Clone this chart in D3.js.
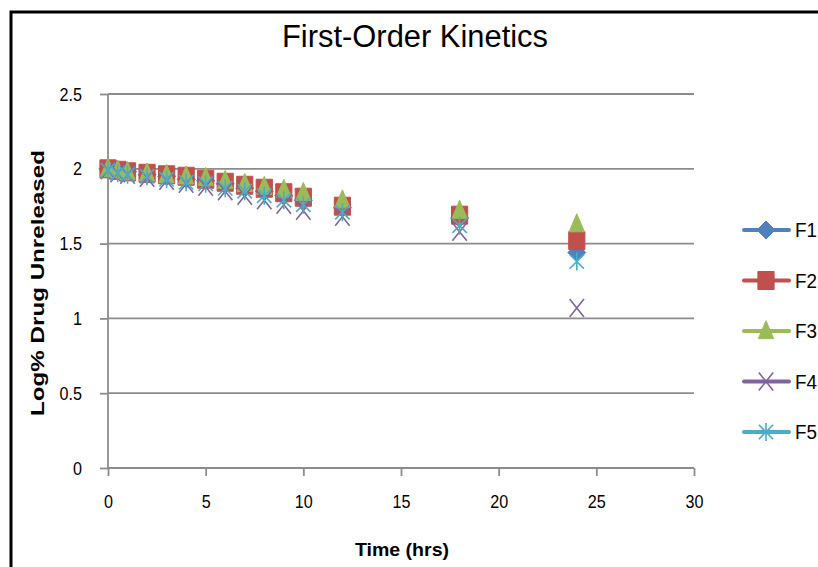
<!DOCTYPE html>
<html>
<head>
<meta charset="utf-8">
<script src="https://cdn.jsdelivr.net/npm/d3@7"></script>
<style>
  html, body { margin: 0; padding: 0; background: #fff; }
  svg { display: block; }
  text { font-family: "Liberation Sans", Arial, sans-serif; fill: #000; }
</style>
</head>
<body>
<svg id="chart" width="818" height="567"></svg>
<script>
const times = [0, 0.5, 1, 2, 3, 4, 5, 6, 7, 8, 9, 10, 12, 18, 24];
const seriesNames = ["F1", "F2", "F3", "F4", "F5"];
const F1 = [2.00, 1.99, 1.98, 1.96, 1.95, 1.93, 1.92, 1.90, 1.87, 1.85, 1.82, 1.79, 1.74, 1.67, 1.44];
const F2 = [2.00, 1.99, 1.98, 1.97, 1.96, 1.95, 1.93, 1.91, 1.89, 1.87, 1.84, 1.81, 1.75, 1.69, 1.52];
const F3 = [2.00, 1.99, 1.98, 1.97, 1.96, 1.95, 1.94, 1.92, 1.90, 1.88, 1.86, 1.84, 1.79, 1.72, 1.63];
const F4 = [1.99, 1.97, 1.96, 1.94, 1.92, 1.90, 1.88, 1.85, 1.82, 1.79, 1.76, 1.72, 1.68, 1.58, 1.07];
const F5 = [1.99, 1.97, 1.96, 1.95, 1.93, 1.91, 1.90, 1.87, 1.85, 1.82, 1.79, 1.76, 1.71, 1.62, 1.38];
const xTicks = [0, 5, 10, 15, 20, 25, 30];
const yTicks = [0, 0.5, 1, 1.5, 2, 2.5];
const titleText = "First-Order Kinetics";
const xTitle = "Time (hrs)";
const yTitle = "Log% Drug Unreleased";

const colors = ["#4F81BD", "#C0504D", "#9BBB59", "#8064A2", "#4BACC6"];
const shapes = ["diamond", "square", "triangle", "x", "star"];
const seriesValues = [F1, F2, F3, F4, F5];

const svg = d3.select("#chart");

// outer frame
svg.append("rect").attr("x", 11).attr("y", 12).attr("width", 830).attr("height", 580)
  .attr("fill", "none").attr("stroke", "#000").attr("stroke-width", 3);

const x = d3.scaleLinear().domain([0, 30]).range([108, 694]);
const y = d3.scaleLinear().domain([0, 2.5]).range([468, 94]);

// gridlines
svg.append("g").selectAll("line").data(yTicks.filter(d => d > 0)).join("line")
  .attr("x1", x(0)).attr("x2", x(30)).attr("y1", d => y(d)).attr("y2", d => y(d))
  .attr("stroke", "#8c8c8c").attr("stroke-width", 1.8);

// y axis
const yAxis = svg.append("g").attr("transform", `translate(${x(0)},0)`)
  .call(d3.axisLeft(y).tickValues(yTicks).tickFormat(d3.format("")).tickSize(8).tickPadding(18));
yAxis.select(".domain").attr("stroke", "#8c8c8c").attr("stroke-width", 1.8).attr("d", `M0,${y(2.5)}V${y(0)}`);
yAxis.selectAll(".tick line").attr("stroke", "#8c8c8c").attr("stroke-width", 1.8);
yAxis.selectAll(".tick text").style("font-size", "19px").attr("font-family", null)
  .attr("transform", "scale(0.85,1)").attr("x", -26 / 0.85);

// x axis
const xAxis = svg.append("g").attr("transform", `translate(0,${y(0)})`)
  .call(d3.axisBottom(x).tickValues(xTicks).tickFormat(d3.format("d")).tickSize(8).tickPadding(19));
xAxis.select(".domain").attr("stroke", "#8c8c8c").attr("stroke-width", 1.8).attr("d", `M${x(0)},0H${x(30)}`);
xAxis.selectAll(".tick line").attr("stroke", "#8c8c8c").attr("stroke-width", 1.8);
xAxis.selectAll(".tick text").style("font-size", "19px").attr("font-family", null)
  .attr("transform", "scale(0.85,1)");

function markerPath(shape, s) {
  const h = s / 2;
  switch (shape) {
    case "diamond": return `M0,${-h}L${h},0L0,${h}L${-h},0Z`;
    case "square": return `M${-h*0.9},${-h}H${h*0.9}V${h}H${-h*0.9}Z`;
    case "triangle": return `M0,${-h*1.15}L${h*0.85},${h*0.85}H${-h*0.85}Z`;
    case "x": return `M${-h*0.8},${-h}L${h*0.8},${h}M${h*0.8},${-h}L${-h*0.8},${h}`;
    case "star": return `M${-h*0.8},${-h*0.8}L${h*0.8},${h*0.8}M${h*0.8},${-h*0.8}L${-h*0.8},${h*0.8}M0,${-h}V${h}`;
  }
}
function drawMarker(g, shape, color, s) {
  const filled = shape === "diamond" || shape === "square" || shape === "triangle";
  g.append("path").attr("d", markerPath(shape, s))
    .attr("fill", filled ? color : "none")
    .attr("stroke", color)
    .attr("stroke-width", filled ? 1 : 1.6)
    .attr("stroke-linejoin", "round");
}

// markers
seriesValues.forEach((vals, i) => {
  const g = svg.append("g");
  const pts = g.selectAll("g").data(times.map((t, j) => [t, vals[j]])).join("g")
    .attr("transform", d => `translate(${x(d[0])},${y(d[1])})`);
  pts.each(function() { drawMarker(d3.select(this), shapes[i], colors[i], 18); });
});

// legend
const legend = svg.append("g");
const legendY = d3.scaleLinear().domain([0, 4]).range([230, 432]);
seriesNames.forEach((name, i) => {
  const g = legend.append("g").attr("transform", `translate(0,${legendY(i)})`);
  g.append("line").attr("x1", 744).attr("x2", 789).attr("y1", 0).attr("y2", 0)
    .attr("stroke", colors[i]).attr("stroke-width", 4).attr("stroke-linecap", "round");
  const m = g.append("g").attr("transform", "translate(766,0)");
  drawMarker(m, shapes[i], colors[i], 18);
  g.append("text").attr("x", 795).attr("y", 0).attr("dy", "0.36em")
    .attr("textLength", 22).attr("lengthAdjust", "spacingAndGlyphs")
    .style("font-size", "20px").text(name);
});

// titles
svg.append("text").attr("x", 415).attr("y", 47).attr("text-anchor", "middle")
  .attr("textLength", 266).attr("lengthAdjust", "spacingAndGlyphs")
  .style("font-size", "31px").text(titleText);
svg.append("text").attr("x", 402).attr("y", 556).attr("text-anchor", "middle")
  .attr("textLength", 94).attr("lengthAdjust", "spacingAndGlyphs")
  .style("font-size", "19px").style("font-weight", "bold").text(xTitle);
svg.append("text").attr("transform", `translate(44,${283}) rotate(-90)`).attr("text-anchor", "middle")
  .attr("textLength", 266).attr("lengthAdjust", "spacingAndGlyphs")
  .style("font-size", "18px").style("font-weight", "bold").text(yTitle);
</script>
</body>
</html>
